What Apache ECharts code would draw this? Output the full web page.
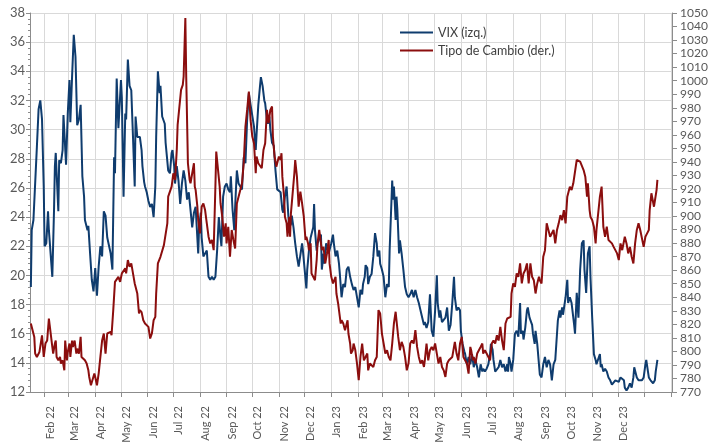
<!DOCTYPE html>
<html>
<head>
<meta charset="utf-8">
<script src="https://cdn.jsdelivr.net/npm/echarts@6/dist/echarts.min.js"></script>
<style>
html, body { margin: 0; padding: 0; background: #fff; }
#chart { width: 713px; height: 446px; }
</style>
</head>
<body>
<div id="chart"></div>
<script>
// day numbers are counted from 1 Jan 2022 (day 0)
var monthNames = ['Jan', 'Feb', 'Mar', 'Apr', 'May', 'Jun', 'Jul', 'Aug', 'Sep', 'Oct', 'Nov', 'Dec'];
var seriesNames = ['VIX (izq.)', 'Tipo de Cambio (der.)'];
var axisStartDay = 14;
var axisEndDay = 762;

// VIX, left axis: [day, value]
var vixPoints = [
    [15,19.2],[16,23.1],[18,23.8],[22,28.8],[24,31.4],[26,32.0],[28,30.7],[30,26.1],[31,22.0],[33,22.2],
    [35,24.4],[36,23.1],[37,23.0],[40,19.9],[42,24.5],[43,27.5],[44,28.4],[47,24.4],[48,27.9],[50,27.7],
    [52,28.6],[53,31.0],[56,27.6],[58,31.1],[60,33.4],[61,30.5],[63,33.6],[65,36.5],[67,35.0],[69,30.3],
    [71,30.7],[73,31.7],[75,26.8],[77,25.4],[78,23.8],[81,23.1],[82,23.4],[84,21.5],[86,19.7],[88,18.9],
    [90,20.5],[92,18.6],[94,20.6],[96,22.0],[98,21.3],[100,24.4],[102,24.1],[104,22.6],[106,22.6],[108,21.5],
    [110,20.4],[112,28.1],[113,27.0],[115,33.5],[117,30.1],[120,33.4],[121,32.2],[123,25.4],[125,31.1],[126,30.7],
    [128,34.8],[130,33.0],[132,32.7],[134,29.5],[136,26.1],[137,30.9],[139,29.5],[141,29.4],[142,29.5],[144,28.6],
    [145,27.5],[147,26.4],[148,26.1],[150,25.7],[152,25.1],[154,24.7],[156,24.9],[158,24.0],[160,26.1],[161,29.5],
    [163,34.0],[165,32.5],[166,33.0],[168,30.9],[169,31.0],[171,30.4],[172,29.1],[174,29.1],[175,27.2],[177,27.0],
    [179,28.4],[180,28.6],[182,27.5],[183,26.3],[185,27.5],[187,26.5],[189,24.9],[191,26.3],[193,27.2],[195,26.5],
    [197,25.2],[199,25.7],[201,24.5],[203,23.3],[205,24.3],[207,24.7],[208,23.6],[210,21.5],[211,23.3],[213,24.3],
    [214,22.6],[216,21.3],[218,21.4],[220,21.7],[222,19.9],[224,19.7],[226,19.9],[228,19.7],[230,19.9],[232,21.7],
    [234,24.0],[236,22.6],[237,22.0],[239,25.4],[241,26.1],[243,26.3],[245,25.9],[247,25.7],[248,26.8],[250,24.5],
    [252,23.1],[253,24.7],[255,27.2],[257,26.3],[259,26.3],[261,25.9],[263,28.1],[265,27.7],[267,30.7],[269,32.5],
    [271,31.7],[273,31.8],[275,30.2],[277,28.6],[278,29.7],[280,31.7],[282,33.0],[283,33.6],[285,33.0],[287,32.0],
    [288,31.8],[290,30.7],[291,30.4],[293,30.9],[294,30.0],[296,29.1],[298,28.9],[300,27.2],[302,25.9],[304,25.9],
    [306,25.7],[308,24.5],[309,24.3],[311,25.4],[313,26.1],[315,24.1],[316,23.3],[318,23.5],[319,24.1],[321,23.3],
    [323,22.2],[325,21.3],[327,20.6],[329,20.5],[331,22.2],[332,21.7],[334,20.4],[336,19.1],[337,20.4],[339,21.7],
    [341,22.6],[342,22.6],[344,23.3],[345,24.9],[346,23.1],[348,21.7],[349,22.2],[351,22.2],[353,22.8],[354,20.4],
    [356,21.5],[357,20.8],[359,22.2],[360,22.2],[362,21.5],[363,21.5],[365,22.2],[367,22.8],[368,22.2],[370,21.3],
    [372,21.7],[374,20.8],[375,20.1],[377,18.5],[379,19.4],[381,19.2],[383,20.4],[385,20.6],[387,19.9],[389,19.4],
    [391,19.0],[393,19.2],[395,19.2],[397,17.8],[399,19.0],[401,18.7],[402,19.4],[404,19.9],[405,20.7],[407,20.5],
    [408,19.4],[410,19.9],[412,20.1],[414,21.3],[416,22.9],[418,22.2],[419,21.3],[421,21.7],[422,20.8],[424,20.4],
    [426,19.9],[428,18.5],[430,19.4],[432,19.2],[433,21.7],[435,24.9],[436,26.5],[437,25.2],[438,26.1],[440,23.8],
    [441,25.4],[442,24.5],[444,21.5],[445,22.4],[447,21.5],[449,20.4],[451,19.2],[453,18.7],[455,18.5],[457,18.7],
    [459,19.0],[461,18.5],[463,19.0],[465,18.5],[467,18.1],[469,18.1],[471,17.1],[473,16.6],[474,16.8],[476,16.4],
    [478,16.8],[480,18.7],[482,16.2],[484,15.8],[486,17.6],[488,20.0],[489,18.1],[491,17.1],[492,17.6],[494,16.8],
    [496,16.9],[498,17.1],[500,17.8],[502,16.2],[504,16.6],[506,18.1],[508,19.9],[509,18.5],[511,17.6],[513,17.8],
    [515,17.6],[516,16.2],[518,15.3],[520,14.8],[521,14.6],[523,13.9],[525,14.4],[527,13.9],[529,14.6],[531,13.7],
    [533,14.2],[535,13.7],[537,13.0],[539,13.9],[541,13.4],[542,13.6],[544,13.4],[546,13.6],[548,13.9],[550,14.6],
    [551,15.3],[553,14.9],[554,14.2],[556,13.4],[558,13.4],[560,13.7],[562,14.2],[564,13.7],[566,13.9],[568,13.4],
    [570,13.9],[571,13.4],[572,14.4],[574,13.9],[575,13.4],[577,14.2],[579,16.0],[581,16.2],[583,15.8],[585,18.1],
    [586,16.0],[588,16.2],[589,15.6],[591,16.4],[593,17.6],[594,17.8],[596,17.1],[597,17.1],[599,16.6],[600,16.0],
    [602,15.3],[603,16.2],[605,15.3],[607,13.9],[608,13.2],[610,13.0],[612,13.9],[614,14.4],[616,13.7],[618,14.2],
    [620,13.9],[622,12.8],[624,13.9],[626,14.2],[628,16.0],[629,16.9],[631,17.6],[632,17.1],[634,17.8],[635,17.3],
    [637,18.1],[638,18.5],[640,19.7],[641,18.1],[643,18.5],[645,18.1],[646,17.6],[648,16.6],[649,16.0],[651,18.8],
    [653,17.1],[655,20.4],[657,22.2],[659,22.4],[660,20.4],[662,18.8],[664,21.5],[666,22.0],[667,19.9],[669,17.1],
    [671,14.6],[673,14.2],[674,13.9],[676,13.9],[678,14.6],[679,13.7],[680,13.9],[682,13.4],[684,13.6],[686,13.4],
    [688,13.0],[690,12.8],[692,12.5],[694,12.6],[696,12.8],[698,12.9],[700,12.7],[702,13.0],[704,12.9],[706,12.8],
    [707,12.3],[709,12.1],[711,12.3],[713,12.6],[715,12.3],[717,13.0],[718,13.7],[720,13.6],[721,13.0],[723,12.8],
    [725,12.8],[727,12.8],[729,13.0],[731,13.9],[732,14.2],[734,13.4],[735,13.0],[737,12.8],[739,12.8],[740,12.6],
    [742,12.8],[743,13.4],[745,14.2]
];

// Tipo de cambio, right axis: [day, value]
var fxPoints = [
    [15,820.6],[17,821.0],[19,810.7],[20,798.4],[22,795.9],[25,799.6],[27,798.4],[28,811.9],[30,795.9],[32,805.8],
    [34,808.0],[36,824.3],[38,823.0],[40,803.3],[41,798.4],[43,805.8],[44,808.0],[45,795.9],[47,793.4],[49,795.9],
    [50,791.0],[52,793.4],[54,786.0],[55,808.0],[57,793.4],[58,799.6],[60,805.8],[61,795.9],[63,808.0],[64,803.3],
    [66,808.0],[68,798.4],[69,802.0],[71,798.4],[73,810.7],[74,795.9],[76,795.9],[78,793.4],[80,791.0],[82,786.0],
    [83,781.1],[85,775.0],[87,773.7],[89,783.6],[90,781.1],[92,775.0],[94,783.6],[96,795.9],[98,808.0],[100,813.2],
    [102,798.4],[104,813.2],[106,811.9],[108,814.4],[109,811.9],[111,830.5],[113,851.4],[115,850.2],[117,855.1],[119,851.4],
    [121,857.6],[123,856.3],[125,861.3],[126,857.6],[128,867.5],[130,862.6],[132,865.0],[134,857.6],[136,850.2],[137,847.7],
    [139,842.8],[141,828.0],[142,830.5],[144,829.0],[146,823.0],[148,820.6],[150,821.8],[152,818.1],[154,809.5],[156,813.2],
    [158,823.0],[160,825.5],[161,842.8],[163,865.0],[165,865.0],[166,869.9],[168,869.9],[170,878.5],[172,879.8],[174,894.6],
    [175,914.3],[177,918.0],[179,921.7],[181,931.6],[183,926.7],[185,948.8],[186,967.3],[188,967.3],[190,993.2],[192,996.9],
    [193,1003.1],[195,1046.3],[196,1003.1],[198,939.0],[200,926.7],[201,924.2],[203,931.6],[205,939.0],[206,921.7],[207,919.2],
    [209,906.9],[210,897.0],[212,887.2],[214,906.9],[216,909.3],[218,904.4],[220,894.6],[222,884.7],[224,879.8],[226,882.3],
    [228,874.8],[230,921.7],[231,947.6],[233,946.4],[235,921.7],[236,909.3],[238,899.5],[240,884.7],[242,894.6],[243,879.8],
    [245,892.1],[247,869.9],[249,889.7],[251,882.3],[253,876.0],[255,909.3],[257,914.3],[259,919.2],[261,924.2],[263,939.0],
    [265,966.1],[267,978.4],[269,992.0],[271,970.8],[273,958.7],[275,953.8],[277,931.6],[278,943.9],[280,939.0],[282,937.8],
    [284,935.3],[286,948.8],[288,953.8],[290,978.4],[292,968.6],[294,978.4],[296,980.9],[297,958.7],[299,943.9],[301,936.5],
    [302,939.0],[304,943.9],[306,941.4],[307,946.4],[308,929.1],[310,914.3],[311,899.5],[313,894.6],[314,884.7],[316,899.5],
    [317,884.7],[318,902.0],[320,916.8],[322,931.6],[323,941.4],[325,929.1],[327,906.9],[329,918.0],[331,909.3],[333,899.5],
    [335,882.3],[336,884.7],[338,879.8],[339,874.8],[341,879.8],[342,857.6],[344,855.1],[346,852.6],[348,867.5],[349,879.8],
    [351,889.7],[353,879.8],[354,874.8],[356,877.2],[358,865.0],[360,872.4],[362,882.3],[363,865.0],[365,855.1],[367,850.2],
    [368,850.2],[370,855.1],[371,842.8],[373,835.4],[374,830.5],[376,820.6],[377,823.0],[379,820.6],[381,815.7],[382,818.1],
    [384,823.0],[385,813.2],[387,805.8],[388,798.4],[390,800.9],[391,805.8],[393,801.0],[395,791.0],[397,778.7],[399,795.9],
    [401,805.8],[403,793.4],[405,795.9],[407,798.4],[408,786.0],[410,791.0],[412,791.0],[414,788.5],[416,793.4],[418,795.9],
    [420,830.5],[422,828.0],[424,813.2],[426,805.8],[428,798.4],[430,800.9],[432,795.9],[434,793.4],[436,805.8],[438,820.6],
    [440,829.3],[441,823.0],[443,810.7],[445,800.9],[447,807.0],[449,803.3],[451,795.9],[453,786.0],[455,791.0],[457,805.8],
    [459,808.0],[461,805.8],[463,815.7],[465,803.3],[467,795.9],[469,791.0],[471,793.4],[473,788.5],[474,793.4],[476,805.8],
    [478,793.4],[480,800.9],[482,803.3],[484,800.9],[486,805.8],[488,798.4],[490,791.0],[492,795.9],[494,788.5],[496,786.0],
    [498,781.1],[500,791.0],[502,793.4],[504,793.4],[506,795.9],[508,795.9],[509,807.0],[511,798.4],[513,793.4],[515,805.8],
    [517,810.7],[519,795.9],[521,795.9],[523,791.0],[525,783.6],[527,803.3],[528,800.9],[530,793.4],[531,795.9],[533,791.0],
    [535,798.4],[537,800.9],[539,803.3],[541,805.8],[542,798.4],[544,800.9],[546,798.4],[548,798.4],[550,793.4],[552,805.8],
    [554,808.0],[556,805.8],[558,811.9],[560,808.0],[562,818.1],[564,808.0],[566,800.9],[568,820.6],[570,824.3],[572,823.0],
    [574,825.5],[575,842.8],[577,850.2],[579,847.7],[581,857.6],[583,855.1],[585,865.0],[587,850.2],[589,857.6],[591,860.1],
    [593,865.0],[595,850.2],[597,865.0],[599,855.1],[601,852.6],[603,842.8],[605,850.2],[607,855.1],[608,852.6],[610,850.2],
    [612,869.9],[614,874.8],[616,894.6],[618,889.7],[620,884.7],[622,884.7],[624,889.7],[626,879.8],[628,889.7],[630,894.6],
    [632,900.7],[634,897.0],[636,904.4],[638,894.6],[640,914.3],[641,914.3],[643,921.7],[645,919.2],[647,924.2],[649,924.0],
    [651,941.4],[653,942.7],[655,940.2],[657,939.0],[659,934.0],[661,929.1],[663,914.3],[664,924.2],[666,904.4],[667,899.5],
    [669,897.0],[671,892.1],[673,879.8],[674,889.7],[676,902.0],[678,914.3],[680,921.7],[682,892.1],[684,884.7],[686,892.1],
    [688,882.3],[690,881.0],[692,879.8],[694,877.2],[696,876.0],[698,872.4],[700,867.5],[702,879.8],[704,874.8],[706,874.8],
    [707,884.7],[709,879.8],[711,872.4],[713,877.2],[715,869.9],[717,865.0],[719,879.8],[721,889.7],[723,894.6],[725,889.7],
    [727,889.7],[729,877.2],[731,884.7],[733,887.2],[735,889.7],[736,904.4],[738,916.8],[739,916.8],[741,906.9],[742,905.7],
    [744,919.2],[745,926.7]
];

function dayToTime(d) {
    return new Date(2022, 0, 1 + d).getTime();
}
function toSeries(points) {
    return points.map(function (p) { return [dayToTime(p[0]), p[1]]; });
}

var chart = echarts.init(document.getElementById('chart'));
var labelColor = '#595959';
var gridColor = '#d9d9d9';
var axisColor = '#8c8c8c';

var option = {
    animation: false,
    textStyle: { fontFamily: 'Lato, "Liberation Sans", sans-serif' },
    legend: {
        orient: 'vertical',
        left: 395,
        top: 21,
        icon: 'rect',
        itemWidth: 33,
        itemHeight: 2,
        itemGap: 5,
        textStyle: { color: '#404040', fontSize: 12.5 },
        data: seriesNames
    },
    grid: { left: 30, right: 41, top: 13, bottom: 54 },
    xAxis: {
        type: 'time',
        min: dayToTime(axisStartDay),
        max: dayToTime(axisEndDay),
        minInterval: 28 * 86400000,
        maxInterval: 31 * 86400000,
        splitNumber: 24,
        axisLine: { lineStyle: { color: axisColor } },
        axisTick: { show: true, length: 5, lineStyle: { color: axisColor } },
        splitLine: { show: true, lineStyle: { color: gridColor } },
        axisLabel: {
            rotate: 90,
            margin: 14,
            verticalAlign: 'top',
            color: labelColor,
            fontSize: 11,
            hideOverlap: false,
            formatter: function (value) {
                var d = new Date(value);
                if (d.getFullYear() > 2023) return '';
                return monthNames[d.getMonth()] + ' ' + String(d.getFullYear()).slice(2);
            }
        }
    },
    yAxis: [
        {
            type: 'value',
            min: 12,
            max: 38,
            interval: 2,
            axisLine: { show: true, lineStyle: { color: axisColor } },
            axisTick: { show: true, length: 4, lineStyle: { color: axisColor } },
            minorTick: { show: true, splitNumber: 5, length: 2, lineStyle: { color: axisColor } },
            splitLine: { show: true, lineStyle: { color: gridColor } },
            axisLabel: { color: labelColor, fontSize: 13, margin: 5 }
        },
        {
            type: 'value',
            min: 770,
            max: 1050,
            interval: 10,
            position: 'right',
            axisLine: { show: true, lineStyle: { color: axisColor } },
            axisTick: { show: true, length: 5, lineStyle: { color: axisColor } },
            splitLine: { show: false },
            axisLabel: {
                color: labelColor,
                fontSize: 12,
                margin: 8,
                formatter: function (v) { return String(v); }
            }
        }
    ],
    series: [
        {
            name: seriesNames[0],
            type: 'line',
            yAxisIndex: 0,
            symbol: 'none',
            lineStyle: { color: '#0f3c6e', width: 2 },
            itemStyle: { color: '#0f3c6e' },
            data: toSeries(vixPoints)
        },
        {
            name: seriesNames[1],
            type: 'line',
            yAxisIndex: 1,
            symbol: 'none',
            lineStyle: { color: '#8b0e0e', width: 2 },
            itemStyle: { color: '#8b0e0e' },
            data: toSeries(fxPoints)
        }
    ]
};
chart.setOption(option);
</script>
</body>
</html>
